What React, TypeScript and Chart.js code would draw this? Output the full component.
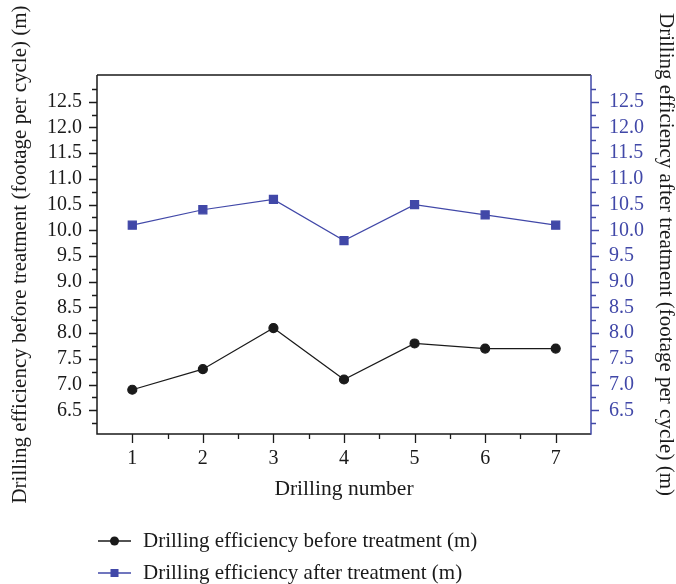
import React, { useEffect, useRef } from "react";
import { Chart, registerables } from "chart.js";

Chart.register(...registerables);

const drillingNumbers = [1, 2, 3, 4, 5, 6, 7];
const beforeTreatment = [6.9, 7.3, 8.1, 7.1, 7.8, 7.7, 7.7];
const afterTreatment = [10.1, 10.4, 10.6, 9.8, 10.5, 10.3, 10.1];
const yTickValues = [6.5, 7.0, 7.5, 8.0, 8.5, 9.0, 9.5, 10.0, 10.5, 11.0, 11.5, 12.0, 12.5];
const xTickValues = [1, 2, 3, 4, 5, 6, 7];

const beforeLabel = "Drilling efficiency before treatment (m)";
const afterLabel = "Drilling efficiency after treatment (m)";
const xTitle = "Drilling number";
const yLeftTitle = "Drilling efficiency before treatment (footage per cycle) (m)";
const yRightTitle = "Drilling efficiency after treatment (footage per cycle) (m)";

const BLACK = "#1a1a1a";
const BLUE = "#4148a8";
const FONT = "'Liberation Serif', 'Times New Roman', serif";

function minorValues(major: number[], min: number, max: number) {
  const step = major[1] - major[0];
  const out: number[] = [];
  for (let i = -1; i < major.length; i++) {
    const v = (i < 0 ? major[0] - step : major[i]) + step / 2;
    if (v > min + 1e-6 && v < max - 1e-6) out.push(v);
  }
  return out;
}

const framePlugin = {
  id: "frame",
  afterDraw(chart: any) {
    const ctx = chart.ctx;
    const { left, right, top, bottom } = chart.chartArea;
    const sx = chart.scales.x;
    const sy = chart.scales.y;
    const sy2 = chart.scales.y2;
    ctx.save();
    ctx.lineWidth = 1.5;
    ctx.strokeStyle = BLACK;
    ctx.beginPath();
    ctx.moveTo(left, top);
    ctx.lineTo(right, top);
    ctx.moveTo(left, top);
    ctx.lineTo(left, bottom);
    ctx.lineTo(right, bottom);
    ctx.stroke();
    ctx.strokeStyle = BLUE;
    ctx.beginPath();
    ctx.moveTo(right, top);
    ctx.lineTo(right, bottom + 0.75);
    ctx.stroke();
    ctx.lineWidth = 1.3;
    const drawY = (scale: any, x: number, dir: number, color: string) => {
      ctx.strokeStyle = color;
      ctx.beginPath();
      yTickValues.forEach((v) => {
        const py = Math.round(scale.getPixelForValue(v)) + 0.5;
        ctx.moveTo(x, py);
        ctx.lineTo(x + dir * 8, py);
      });
      minorValues(yTickValues, scale.min, scale.max).forEach((v) => {
        const py = Math.round(scale.getPixelForValue(v)) + 0.5;
        ctx.moveTo(x, py);
        ctx.lineTo(x + dir * 5, py);
      });
      ctx.stroke();
    };
    drawY(sy, left, -1, BLACK);
    drawY(sy2, right, 1, BLUE);
    ctx.strokeStyle = BLACK;
    ctx.beginPath();
    xTickValues.forEach((v) => {
      const px = Math.round(sx.getPixelForValue(v)) + 0.5;
      ctx.moveTo(px, bottom);
      ctx.lineTo(px, bottom + 9);
    });
    minorValues(xTickValues, sx.min, sx.max).forEach((v) => {
      const px = Math.round(sx.getPixelForValue(v)) + 0.5;
      ctx.moveTo(px, bottom);
      ctx.lineTo(px, bottom + 5);
    });
    ctx.stroke();

    const rows = [bottom + 107, bottom + 139];
    chart.data.datasets.forEach((ds: any, i: number) => {
      const y = rows[i];
      const x1 = left + 1;
      const x2 = left + 34;
      const cx = (x1 + x2) / 2;
      ctx.strokeStyle = ds.borderColor;
      ctx.lineWidth = 1.3;
      ctx.beginPath();
      ctx.moveTo(x1, y);
      ctx.lineTo(x2, y);
      ctx.stroke();
      ctx.fillStyle = ds.pointBackgroundColor;
      if (ds.pointStyle === "rect") {
        ctx.fillRect(cx - 4, y - 4, 8, 8);
      } else {
        ctx.beginPath();
        ctx.arc(cx, y, 4.5, 0, Math.PI * 2);
        ctx.fill();
      }
      ctx.fillStyle = BLACK;
      ctx.font = `21px ${FONT}`;
      ctx.textBaseline = "middle";
      ctx.textAlign = "left";
      ctx.fillText(ds.label, left + 46, y);
    });
    ctx.restore();
  },
};

export default function App() {
  const canvasRef = useRef<HTMLCanvasElement | null>(null);

  useEffect(() => {
    if (!canvasRef.current) return;
    const toPts = (vals: number[]) => vals.map((v, i) => ({ x: drillingNumbers[i], y: v }));
    const chart = new Chart(canvasRef.current, {
      type: "line",
      data: {
        datasets: [
          {
            label: beforeLabel,
            data: toPts(beforeTreatment),
            borderColor: BLACK,
            backgroundColor: BLACK,
            pointBackgroundColor: BLACK,
            pointBorderColor: BLACK,
            pointStyle: "circle",
            pointRadius: 4.5,
            borderWidth: 1.2,
            yAxisID: "y",
          },
          {
            label: afterLabel,
            data: toPts(afterTreatment),
            borderColor: BLUE,
            backgroundColor: BLUE,
            pointBackgroundColor: BLUE,
            pointBorderColor: BLUE,
            pointStyle: "rect",
            pointRadius: 5.7,
            borderWidth: 1.2,
            yAxisID: "y2",
          },
        ],
      },
      options: {
        responsive: true,
        maintainAspectRatio: false,
        animation: false,
        layout: { padding: { top: 75, left: 0, right: 0, bottom: 0 } },
        plugins: { legend: { display: false }, tooltip: { enabled: false } },
        scales: {
          x: {
            type: "linear",
            min: 0.5,
            max: 7.5,
            grid: { display: false, drawTicks: false },
            border: { display: false },
            afterBuildTicks: (s: any) => {
              s.ticks = xTickValues.map((v) => ({ value: v }));
            },
            afterFit: (s: any) => {
              s.height = 150;
            },
            ticks: {
              padding: 13,
              color: BLACK,
              font: { family: FONT, size: 20 },
              callback: (v: any) => String(v),
            },
            title: {
              display: true,
              text: xTitle,
              color: BLACK,
              font: { family: FONT, size: 21.5 },
              padding: { top: 0, bottom: 82 },
            },
          },
          y: {
            type: "linear",
            position: "left",
            min: 6.04,
            max: 13.02,
            grid: { display: false, drawTicks: false },
            border: { display: false },
            afterBuildTicks: (s: any) => {
              s.ticks = yTickValues.map((v) => ({ value: v }));
            },
            afterFit: (s: any) => {
              s.width = 97;
            },
            ticks: {
              padding: 15,
              color: BLACK,
              font: { family: FONT, size: 20 },
              callback: (v: any) => Number(v).toFixed(1),
            },
            title: {
              display: true,
              text: yLeftTitle,
              color: BLACK,
              font: { family: FONT, size: 21, lineHeight: 1 },
              padding: { top: 9.5, bottom: 0 },
            },
          },
          y2: {
            type: "linear",
            position: "right",
            min: 6.04,
            max: 13.02,
            grid: { display: false, drawTicks: false },
            border: { display: false },
            afterBuildTicks: (s: any) => {
              s.ticks = yTickValues.map((v) => ({ value: v }));
            },
            afterFit: (s: any) => {
              s.width = 85;
            },
            ticks: {
              padding: 18,
              color: BLUE,
              font: { family: FONT, size: 20 },
              callback: (v: any) => Number(v).toFixed(1),
            },
            title: {
              display: true,
              text: yRightTitle,
              color: BLACK,
              font: { family: FONT, size: 21, lineHeight: 1 },
              padding: { top: 0, bottom: 0 },
            },
          },
        },
      },
      plugins: [framePlugin],
    });
    return () => chart.destroy();
  }, []);

  return (
    <div style={{ position: "fixed", left: 0, top: 0, width: 676, height: 584, background: "#fff" }}>
      <canvas ref={canvasRef} />
    </div>
  );
}
